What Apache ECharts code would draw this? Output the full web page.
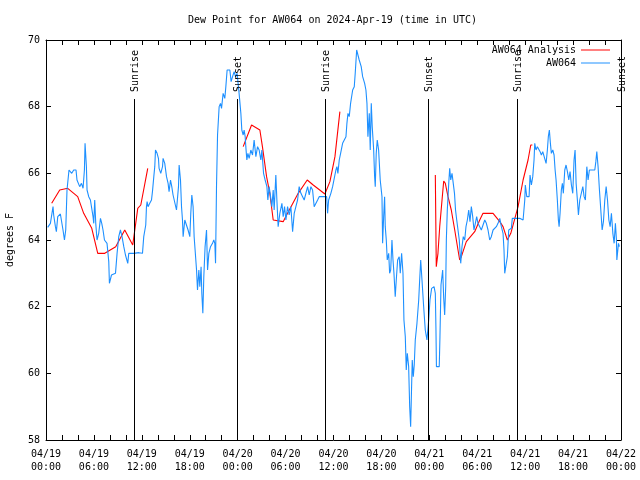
<!DOCTYPE html>
<html><head><meta charset="utf-8">
<script src="https://cdn.jsdelivr.net/npm/echarts@6/dist/echarts.min.js"></script>
<style>html,body{margin:0;padding:0;background:#fff}#c{width:640px;height:480px}</style>
</head><body><div id="c"></div>
<script>
const FONT = 'DejaVu Sans Mono';
const titleText = 'Dew Point for AW064 on 2024-Apr-19 (time in UTC)';
const yName = 'degrees F';
const xTicks = [0, 6, 12, 18, 24, 30, 36, 42, 48, 54, 60, 66, 72]; // hours since 04/19 00:00 UTC
const yTicks = [58, 60, 62, 64, 66, 68, 70];

// AW064 observations: [hours since 04/19 00:00, dew point F]
const blueData = [[0.21,64.38],[0.55,64.5],[0.88,65.0],[0.96,64.75],[1.18,64.4],[1.30,64.25],[1.47,64.7],[1.80,64.78],[2.00,64.78],[2.13,64.3],[2.31,64.0],[2.47,64.3],[2.63,65.5],[2.88,66.1],[3.22,66.0],[3.47,66.1],[3.76,66.1],[3.88,65.8],[4.22,65.6],[4.44,65.7],[4.64,65.55],[4.81,66.1],[4.89,66.9],[5.06,66.2],[5.14,65.5],[5.35,65.3],[5.56,65.2],[5.76,65.25],[5.89,64.7],[5.98,64.5],[6.10,65.2],[6.23,64.5],[6.39,64.0],[6.60,64.2],[6.82,64.65],[6.98,64.5],[7.14,64.3],[7.32,64.0],[7.64,63.9],[7.86,63.35],[7.94,62.7],[8.20,62.95],[8.70,63.0],[8.90,63.6],[9.11,64.1],[9.32,64.3],[9.52,64.1],[9.74,63.8],[9.95,63.55],[10.24,63.3],[10.36,63.6],[10.58,63.65],[10.99,63.6],[11.62,63.62],[12.08,63.6],[12.24,64.1],[12.49,64.45],[12.58,65.0],[12.66,65.15],[12.78,65.0],[12.99,65.1],[13.21,65.2],[13.33,65.45],[13.50,65.9],[13.62,66.2],[13.71,66.7],[13.91,66.6],[14.08,66.45],[14.16,66.15],[14.37,66.0],[14.59,66.2],[14.66,66.45],[14.87,66.3],[15.09,65.9],[15.29,65.7],[15.41,65.45],[15.59,65.8],[15.75,65.6],[15.91,65.35],[16.09,65.3],[16.34,64.9],[16.59,65.6],[16.67,66.25],[16.84,65.8],[16.97,65.0],[17.09,64.6],[17.17,64.1],[17.38,64.6],[17.59,64.55],[17.79,64.3],[18.01,64.1],[18.13,64.8],[18.26,65.35],[18.42,65.0],[18.55,64.1],[18.67,63.7],[18.85,63.1],[18.97,62.5],[19.14,63.1],[19.26,62.6],[19.42,63.2],[19.51,62.4],[19.64,61.8],[19.76,62.9],[19.92,63.8],[20.10,64.3],[20.23,63.1],[20.39,63.6],[20.60,63.8],[20.85,63.9],[21.01,64.0],[21.14,63.9],[21.23,63.3],[21.35,65.6],[21.48,67.15],[21.68,68.0],[21.85,68.1],[21.98,67.95],[22.18,68.4],[22.39,68.25],[22.52,68.6],[22.68,69.1],[23.02,69.1],[23.18,68.75],[23.36,68.9],[23.56,69.05],[23.73,68.9],[23.93,69.0],[24.18,68.4],[24.40,67.8],[24.52,67.3],[24.69,67.15],[24.81,67.3],[24.94,67.1],[25.02,66.8],[25.15,66.4],[25.28,66.6],[25.44,66.45],[25.65,66.7],[25.86,66.55],[26.06,67.0],[26.28,66.5],[26.49,66.8],[26.69,66.7],[26.90,66.4],[27.03,66.7],[27.24,66.0],[27.44,65.8],[27.66,65.6],[27.78,65.2],[27.94,65.6],[28.12,65.3],[28.28,65.0],[28.45,65.5],[28.57,64.9],[28.78,65.95],[28.91,65.2],[29.07,64.4],[29.28,64.8],[29.54,65.1],[29.70,64.7],[29.87,65.0],[30.04,64.6],[30.25,65.0],[30.45,64.75],[30.66,65.0],[30.88,64.25],[31.08,64.8],[31.29,65.0],[31.50,65.2],[31.70,65.6],[31.92,65.4],[32.13,65.3],[32.33,65.2],[32.54,65.4],[32.76,65.6],[32.96,65.35],[33.17,65.6],[33.38,65.5],[33.58,65.0],[33.80,65.0],[34.01,65.2],[34.21,65.3],[34.42,65.3],[34.84,65.3],[35.14,65.3],[35.26,64.8],[35.39,65.2],[35.67,65.4],[35.89,65.6],[36.14,65.65],[36.30,66.1],[36.43,66.2],[36.55,66.0],[36.72,66.4],[36.89,66.6],[37.14,66.9],[37.39,66.85],[37.56,67.1],[37.68,67.5],[37.81,67.8],[37.97,67.7],[38.14,68.1],[38.40,68.5],[38.60,68.6],[38.72,69.0],[38.90,69.7],[39.06,69.75],[39.22,69.4],[39.47,69.2],[39.65,68.9],[39.90,68.7],[40.06,68.5],[40.19,68.1],[40.31,67.1],[40.48,67.8],[40.60,66.7],[40.73,68.1],[40.85,67.4],[41.03,66.7],[41.15,65.9],[41.23,65.6],[41.35,66.6],[41.48,67.0],[41.65,66.7],[41.85,65.8],[42.07,65.3],[42.15,63.9],[42.28,64.7],[42.40,65.3],[42.48,64.4],[42.61,64.0],[42.73,63.4],[42.91,63.6],[43.03,63.0],[43.16,63.1],[43.32,64.0],[43.45,63.4],[43.57,63.0],[43.73,62.3],[43.86,62.8],[44.03,63.4],[44.23,63.5],[44.36,63.0],[44.53,63.6],[44.70,63.0],[44.82,61.6],[44.99,61.1],[45.11,60.1],[45.24,60.6],[45.41,60.2],[45.54,59.0],[45.66,58.4],[45.74,59.2],[45.86,60.4],[45.99,59.9],[46.11,60.25],[46.24,61.0],[46.45,61.5],[46.67,62.2],[46.79,62.8],[46.92,63.4],[47.08,62.8],[47.29,62.0],[47.49,61.3],[47.70,61.0],[47.92,61.6],[48.08,62.2],[48.29,62.55],[48.59,62.6],[48.75,62.4],[48.83,61.3],[48.89,60.2],[49.24,60.2],[49.33,61.1],[49.46,62.65],[49.67,63.1],[49.80,62.25],[49.92,61.75],[50.05,62.6],[50.13,64.0],[50.25,64.9],[50.43,65.7],[50.55,66.15],[50.68,65.8],[50.84,66.0],[51.00,66.0],[51.15,65.4],[51.28,64.9],[51.43,64.6],[51.59,64.55],[51.75,64.0],[51.93,63.3],[52.09,63.8],[52.25,64.1],[52.43,64.0],[52.59,64.4],[52.76,64.6],[52.93,64.9],[53.09,64.55],[53.26,65.0],[53.43,64.7],[53.59,64.3],[53.76,64.5],[53.93,64.7],[54.09,64.5],[54.31,64.4],[54.51,64.3],[54.72,64.3],[54.94,64.6],[55.14,64.5],[55.35,64.3],[55.56,64.0],[55.76,64.1],[55.98,64.3],[56.19,64.3],[56.39,64.4],[56.60,64.5],[56.82,64.65],[57.02,64.4],[57.23,64.2],[57.35,63.7],[57.44,63.0],[57.64,63.0],[57.77,63.5],[57.94,64.3],[58.27,64.35],[58.39,64.65],[58.90,64.65],[59.32,64.65],[59.74,64.6],[59.86,64.6],[59.95,65.2],[60.02,65.65],[60.20,65.3],[60.49,65.3],[60.61,65.95],[60.78,65.65],[60.95,65.9],[61.11,66.4],[61.20,66.9],[61.36,66.7],[61.53,66.8],[61.70,66.8],[61.87,66.65],[62.03,66.55],[62.20,66.65],[62.45,66.7],[62.62,66.3],[62.78,66.7],[62.90,67.1],[63.03,67.3],[63.16,66.9],[63.28,66.6],[63.46,66.7],[63.62,66.55],[63.75,66.1],[63.87,65.8],[64.03,65.2],[64.16,64.6],[64.25,64.4],[64.37,64.8],[64.53,65.5],[64.66,65.7],[64.78,65.4],[64.96,66.1],[65.12,66.25],[65.29,66.05],[65.46,65.8],[65.62,66.05],[65.79,65.65],[65.96,65.4],[66.12,66.4],[66.25,66.7],[66.38,65.7],[66.54,65.2],[66.67,64.75],[66.84,65.2],[67.04,65.25],[67.22,65.6],[67.38,65.3],[67.54,65.2],[67.72,66.2],[67.88,65.8],[68.04,66.1],[68.72,66.1],[68.85,66.35],[68.97,66.65],[69.13,66.2],[69.30,65.5],[69.47,64.9],[69.64,64.3],[69.80,64.55],[69.97,65.2],[70.14,65.6],[70.31,65.2],[70.48,64.6],[70.64,64.4],[70.80,64.8],[70.98,64.2],[71.14,63.9],[71.30,64.5],[71.43,64.0],[71.48,63.4],[71.68,63.9],[71.80,63.8]];

// AW064 Analysis (three separate segments)
const redSeg1 = [[0.71,65.1],[1.72,65.5],[2.72,65.55],[3.97,65.3],[4.72,64.8],[5.73,64.35],[6.48,63.6],[7.36,63.6],[8.73,63.8],[9.86,64.3],[10.86,63.85],[11.49,64.95],[11.87,65.05],[12.74,66.15]];
const redSeg2 = [[24.69,66.8],[25.74,67.45],[26.78,67.3],[27.0,67.25],[27.1,66.8],[27.62,65.9],[28.03,65.4],[28.45,64.6],[28.66,64.55],[29.70,64.55],[30.13,64.75],[31.58,65.4],[32.71,65.8],[33.46,65.65],[34.92,65.38],[35.55,65.75],[36.18,66.5],[36.8,67.85]];
const redSeg3 = [[48.75,65.95],[48.87,63.2],[49.08,63.6],[49.30,64.4],[49.59,65.2],[49.80,65.77],[50.00,65.7],[50.34,65.3],[50.75,64.9],[51.18,64.3],[51.59,63.7],[51.80,63.4],[52.01,63.5],[52.63,63.95],[53.68,64.25],[54.31,64.6],[54.72,64.8],[55.98,64.8],[56.82,64.55],[57.23,64.4],[57.77,64.0],[58.20,64.2],[58.77,64.7],[59.11,65.0],[59.74,65.8],[60.36,66.4],[60.70,66.85],[60.90,66.85]];

const eventHours = [11.03, 23.93, 34.96, 47.87, 59.0, 71.97];
const eventLabels = ['Sunrise', 'Sunset', 'Sunrise', 'Sunset', 'Sunrise', 'Sunset'];
const eventTop = 68.23;

const redData = [].concat(redSeg1, [[18, null]], redSeg2, [[42, null]], redSeg3);

function fmt(v) {
  const dayOff = Math.floor(v / 24);
  const h = v - dayOff * 24;
  return '04/' + (19 + dayOff) + '\n' + (h < 10 ? '0' : '') + h + ':00';
}

const chart = echarts.init(document.getElementById('c'), null, { renderer: 'canvas' });
const axisCommon = {
  type: 'value',
  axisLine: { show: true, onZero: false, lineStyle: { color: '#000', width: 1 } },
  axisTick: { show: true, inside: true, length: 5, lineStyle: { color: '#000' } },
  splitLine: { show: false }
};
chart.setOption({
  animation: false,
  backgroundColor: '#fff',
  textStyle: { fontFamily: FONT },
  title: {
    text: titleText, left: 188, top: 15, padding: 0,
    textStyle: { fontFamily: FONT, fontSize: 10, fontWeight: 'normal', color: '#000' }
  },
  legend: {
    orient: 'vertical', right: 30, top: 45, align: 'right', padding: 0,
    icon: 'rect', itemWidth: 29, itemHeight: 1, itemGap: 3,
    textStyle: { fontFamily: FONT, fontSize: 10, color: '#000' },
    data: ['AW064 Analysis', 'AW064']
  },
  grid: { left: 46, right: 19, top: 40, bottom: 40, containLabel: false, outerBoundsMode: 'none' },
  xAxis: [
    Object.assign({}, axisCommon, {
      min: xTicks[0], max: xTicks[xTicks.length - 1], interval: 6,
      minorTick: { show: true, splitNumber: 3, length: 5, lineStyle: { color: '#000' } },
      axisLabel: { formatter: fmt, fontFamily: FONT, fontSize: 10, color: '#000', lineHeight: 13, margin: 8, showMinLabel: true, showMaxLabel: true }
    }),
    Object.assign({}, axisCommon, {
      position: 'top',
      min: xTicks[0], max: xTicks[xTicks.length - 1], interval: 6,
      minorTick: { show: true, splitNumber: 3, length: 5, lineStyle: { color: '#000' } },
      axisLabel: { show: false }
    })
  ],
  yAxis: [
    Object.assign({}, axisCommon, {
      min: yTicks[0], max: yTicks[yTicks.length - 1], interval: 2,
      name: yName, nameLocation: 'middle', nameGap: 31, nameRotate: 90,
      nameTextStyle: { fontFamily: FONT, fontSize: 10, color: '#000' },
      axisLabel: { fontFamily: FONT, fontSize: 10, color: '#000', margin: 6 }
    }),
    Object.assign({}, axisCommon, {
      position: 'right',
      min: yTicks[0], max: yTicks[yTicks.length - 1], interval: 2,
      axisLabel: { show: false }
    })
  ],
  series: [
    {
      name: 'AW064 Analysis', type: 'line', data: redData, symbol: 'none', showSymbol: false,
      connectNulls: false, lineStyle: { color: '#ff0000', width: 1.1 }, itemStyle: { color: '#ff0000' }, z: 2
    },
    {
      name: 'AW064', type: 'line', data: blueData, symbol: 'none', showSymbol: false,
      lineStyle: { color: '#1e90ff', width: 1.1 }, itemStyle: { color: '#1e90ff' }, z: 3
    },
    {
      type: 'custom', silent: true, z: 4, clip: false,
      data: eventHours.map(function (h) { return [h, yTicks[0]]; }),
      renderItem: function (params, api) {
        const t = api.value(0);
        const top = api.coord([t, eventTop]);
        const bot = api.coord([t, yTicks[0]]);
        const x = Math.round(top[0]) + 0.5;
        return {
          type: 'group',
          children: [
            { type: 'line', shape: { x1: x, y1: top[1], x2: x, y2: bot[1] }, style: { stroke: '#000', lineWidth: 1 } },
            {
              type: 'text', x: x + 1, y: top[1] - 7, rotation: Math.PI / 2,
              style: { text: eventLabels[params.dataIndex], fill: '#000', font: '10px "' + FONT + '"', textAlign: 'left', textVerticalAlign: 'middle' }
            }
          ]
        };
      }
    }
  ]
});
</script>
</body></html>
